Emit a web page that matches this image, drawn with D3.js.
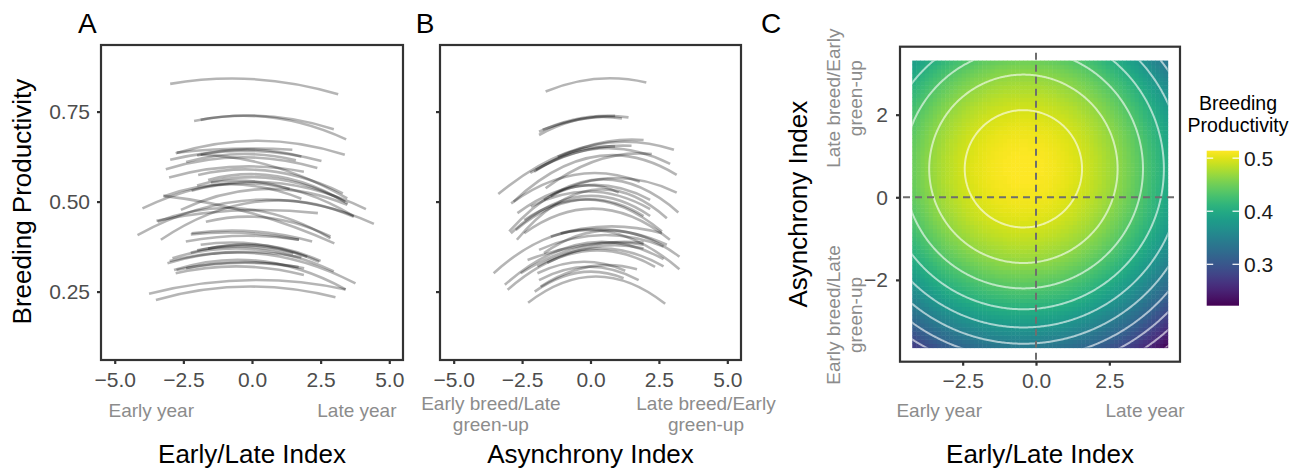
<!DOCTYPE html>
<html><head><meta charset="utf-8">
<script src="https://cdn.jsdelivr.net/npm/d3@7"></script>
<style>
body{margin:0;background:#fff;}
svg{display:block;font-family:"Liberation Sans",Arial,Helvetica,sans-serif;}
</style></head><body>
<svg id="chart" width="1300" height="472"></svg>
<script>
// ================= DATA =================
const xTicksAB = [-5, -2.5, 0, 2.5, 5];
const yTicksAB = [0.25, 0.5, 0.75];
const xTicksC = [-2.5, 0, 2.5];
const yTicksC = [-2, 0, 2];
const legendTicks = [0.3, 0.4, 0.5];

// Site-level fitted curves: [xStart, xEnd, yStart, yMiddle, yEnd]
const curvesA = [
  [-2.98, 3.14, 0.827, 0.840, 0.798],
  [-2.11, 2.98, 0.724, 0.738, 0.701],
  [-1.87, 3.43, 0.727, 0.733, 0.673],
  [-2.78, 3.38, 0.634, 0.669, 0.630],
  [-2.74, 1.47, 0.636, 0.647, 0.644],
  [-2.98, 2.53, 0.616, 0.641, 0.613],
  [-3.14, 2.38, 0.590, 0.623, 0.593],
  [-3.02, 1.89, 0.567, 0.597, 0.583],
  [-2.40, 1.60, 0.610, 0.632, 0.615],
  [-1.87, 3.47, 0.630, 0.597, 0.509],
  [-1.50, 1.37, 0.553, 0.557, 0.535],
  [-3.24, 3.00, 0.516, 0.470, 0.384],
  [-3.99, 4.15, 0.481, 0.555, 0.479],
  [-4.17, 4.44, 0.407, 0.505, 0.438],
  [-3.32, 3.71, 0.394, 0.500, 0.458],
  [-2.59, 3.47, 0.477, 0.535, 0.491],
  [-3.44, 2.86, 0.444, 0.480, 0.398],
  [-2.20, 2.19, 0.412, 0.418, 0.389],
  [-2.41, 1.71, 0.389, 0.405, 0.394],
  [-3.20, 1.80, 0.515, 0.548, 0.508],
  [-2.00, 3.40, 0.545, 0.565, 0.500],
  [-2.20, 3.70, 0.530, 0.545, 0.460],
  [-2.23, 1.71, 0.409, 0.413, 0.394],
  [-2.23, 2.44, 0.358, 0.378, 0.333],
  [-1.87, 2.01, 0.380, 0.383, 0.347],
  [-2.90, 2.98, 0.343, 0.368, 0.306],
  [-3.08, 3.77, 0.329, 0.355, 0.273],
  [-2.84, 3.41, 0.310, 0.335, 0.256],
  [-2.78, 1.89, 0.301, 0.320, 0.296],
  [-2.40, 1.70, 0.315, 0.332, 0.318],
  [-3.75, 3.41, 0.244, 0.282, 0.256],
  [-3.50, 3.04, 0.227, 0.264, 0.234],
  [-1.68, 2.86, 0.444, 0.455, 0.403],
  [-1.60, 2.50, 0.370, 0.378, 0.335],
  [-2.00, 1.50, 0.365, 0.375, 0.355],
  [-3.00, 1.80, 0.335, 0.360, 0.345],
  [-2.75, 1.90, 0.310, 0.330, 0.315],
  [-2.00, 1.80, 0.628, 0.645, 0.625],
  [-1.96, 3.31, 0.574, 0.585, 0.523],
  [-1.60, 3.49, 0.560, 0.570, 0.494],
  [-3.48, 2.40, 0.447, 0.475, 0.468]
];

const curvesB = [
  [-1.64, 2.04, 0.806, 0.841, 0.831],
  [-1.88, 1.39, 0.694, 0.733, 0.734],
  [-1.88, 1.15, 0.685, 0.729, 0.731],
  [-1.75, 0.90, 0.700, 0.728, 0.738],
  [-3.37, 3.05, 0.521, 0.653, 0.644],
  [-2.81, 3.15, 0.500, 0.625, 0.574],
  [-2.00, 2.91, 0.588, 0.648, 0.605],
  [-2.06, 1.94, 0.583, 0.655, 0.671],
  [-1.64, 2.24, 0.537, 0.616, 0.632],
  [-2.97, 3.21, 0.417, 0.560, 0.470],
  [-2.69, 2.79, 0.394, 0.532, 0.454],
  [-1.70, 3.15, 0.505, 0.565, 0.525],
  [-1.45, 1.03, 0.514, 0.545, 0.525],
  [-2.18, 2.18, 0.486, 0.528, 0.479],
  [-2.42, 2.61, 0.449, 0.505, 0.417],
  [-3.54, 3.25, 0.301, 0.421, 0.312],
  [-3.13, 2.67, 0.269, 0.384, 0.340],
  [-3.03, 2.36, 0.255, 0.361, 0.319],
  [-2.55, 1.94, 0.301, 0.375, 0.380],
  [-1.88, 2.67, 0.366, 0.407, 0.375],
  [-2.30, 1.94, 0.338, 0.380, 0.386],
  [-1.94, 1.27, 0.301, 0.333, 0.308],
  [-1.88, 1.76, 0.282, 0.319, 0.282],
  [-2.04, 1.21, 0.250, 0.303, 0.287],
  [-2.28, 2.73, 0.219, 0.292, 0.216],
  [-1.82, 1.70, 0.264, 0.319, 0.312],
  [-1.09, 2.79, 0.412, 0.421, 0.380],
  [-1.45, 2.61, 0.403, 0.431, 0.412],
  [-2.91, 2.18, 0.412, 0.514, 0.460],
  [-2.73, 1.94, 0.421, 0.505, 0.460],
  [-2.20, 1.50, 0.580, 0.640, 0.655],
  [-1.20, 0.90, 0.625, 0.648, 0.653],
  [-2.67, 2.18, 0.468, 0.545, 0.505],
  [-2.42, 2.90, 0.412, 0.480, 0.394],
  [-1.70, 3.25, 0.357, 0.420, 0.347],
  [-1.58, 1.94, 0.330, 0.375, 0.370],
  [-1.94, 2.67, 0.320, 0.370, 0.320],
  [-2.90, 1.80, 0.495, 0.575, 0.555]
];

// Panel C fitted response surface (quadratic model)
const surfacePeak = [-0.43, 0.69];          // Early/Late, Asynchrony at maximum
const surfaceMax = [0.514];
const surfaceCurvature = [0.00475, 0.00942]; // quadratic coefficients (x, y)
const rasterXRange = [-4.22, 4.49];
const rasterYRange = [-3.64, 3.31];
const rasterCells = [62, 70];
const contourLevels = [0.495, 0.465, 0.435, 0.405, 0.375, 0.345, 0.315, 0.285, 0.255, 0.225];
const colorRange = [0.222, 0.514];

// ================= DRAWING =================
const svg = d3.select("#chart");
const FONT = '"Liberation Sans",Arial,Helvetica,sans-serif';
const tickCol = "#4d4d4d", annCol = "#8c8c8c", frameCol = "#333333";

function styleAxis(g) {
  g.attr("font-family", null).attr("font-size", null);
  g.select(".domain").remove();
  g.selectAll(".tick line").attr("stroke", frameCol).attr("stroke-width", 2.2);
  g.selectAll(".tick text").attr("fill", tickCol).style("font-size", "21px").style("font-family", FONT);
}

function curvePath(c, x, y) {
  const [x0, x1, v0, vm, v1] = c;
  const xm = (x0 + x1) / 2;
  const ctrl = 2 * vm - (v0 + v1) / 2;
  const p = d3.path();
  p.moveTo(x(x0), y(v0));
  p.quadraticCurveTo(x(xm), y(ctrl), x(x1), y(v1));
  return p.toString();
}

function text(g, str, x, y, size, fill, anchor, rotate) {
  const t = g.append("text").text(str)
    .attr("font-size", size).attr("fill", fill).attr("text-anchor", anchor || "middle");
  if (rotate) t.attr("transform", `translate(${x},${y}) rotate(-90)`);
  else t.attr("x", x).attr("y", y);
  return t;
}

function linePanel(curves, left, right, showYLabels) {
  const top = 45, bottom = 360;
  const x = d3.scaleLinear().domain([-5.5, 5.5]).range([left, right]);
  const y = d3.scaleLinear().domain([0.06, 0.935]).range([bottom, top]);
  const g = svg.append("g");
  g.append("g").selectAll("path").data(curves).join("path")
    .attr("d", d => curvePath(d, x, y))
    .attr("fill", "none").attr("stroke", "#000").attr("stroke-opacity", 0.29)
    .attr("stroke-width", 2.6).attr("stroke-linecap", "butt");
  g.append("g").attr("transform", `translate(0,${bottom})`)
    .call(d3.axisBottom(x).tickValues(xTicksAB).tickSize(4).tickPadding(8).tickFormat(d3.format(".1f")))
    .call(styleAxis);
  g.append("g").attr("transform", `translate(${left},0)`)
    .call(d3.axisLeft(y).tickValues(yTicksAB).tickSize(4).tickPadding(7)
      .tickFormat(showYLabels ? d3.format(".2f") : () => ""))
    .call(styleAxis);
  g.append("rect").attr("x", left).attr("y", top).attr("width", right - left).attr("height", bottom - top)
    .attr("fill", "none").attr("stroke", frameCol).attr("stroke-width", 2.2);
  return {x, y, g};
}

// ---- Panel A ----
const A = linePanel(curvesA, 101, 403, true);
text(svg, "A", 87.3, 33.3, "28px", "#000");
text(svg, "Early/Late Index", A.x(0), 463, "26px", "#000");
text(svg, "Breeding Productivity", 30.5, A.y(0.5), "26px", "#000", "middle", true);
text(svg, "Early year", A.x(-3.67), 417, "19px", annCol);
text(svg, "Late year", A.x(3.82), 417, "19px", annCol);

// ---- Panel B ----
const B = linePanel(curvesB, 440, 741, false);
text(svg, "B", 425, 33.3, "28px", "#000");
text(svg, "Asynchrony Index", B.x(0), 463, "26px", "#000");
text(svg, "Early breed/Late", B.x(-3.64), 409.5, "19px", annCol);
text(svg, "green-up", B.x(-3.64), 430.5, "19px", annCol);
text(svg, "Late breed/Early", B.x(4.22), 409.5, "19px", annCol);
text(svg, "green-up", B.x(4.22), 430.5, "19px", annCol);

// ---- Panel C ----
const cL = 900, cR = 1180, cT = 46.7, cB = 361.7;
const xC = d3.scaleLinear().domain([-4.637, 4.910]).range([cL, cR]);
const yC = d3.scaleLinear().domain([-3.981, 3.646]).range([cB, cT]);
const color = v => d3.interpolateViridis((v - colorRange[0]) / (colorRange[1] - colorRange[0]));
const surface = (xx, yy) => surfaceMax[0]
  - surfaceCurvature[0] * (xx - surfacePeak[0]) ** 2
  - surfaceCurvature[1] * (yy - surfacePeak[1]) ** 2;

const gC = svg.append("g");
const cw = (rasterXRange[1] - rasterXRange[0]) / rasterCells[0];
const ch = (rasterYRange[1] - rasterYRange[0]) / rasterCells[1];
const cells = [];
for (let j = 0; j < rasterCells[1]; j++) for (let i = 0; i < rasterCells[0]; i++) {
  const x0 = rasterXRange[0] + i * cw, y0 = rasterYRange[0] + j * ch;
  cells.push({x0, y0, v: surface(x0 + cw / 2, y0 + ch / 2)});
}
gC.append("g").selectAll("rect").data(cells).join("rect")
  .attr("x", d => xC(d.x0)).attr("y", d => yC(d.y0 + ch))
  .attr("width", d => xC(d.x0 + cw) - xC(d.x0) + 0.5)
  .attr("height", d => yC(d.y0) - yC(d.y0 + ch) + 0.5)
  .attr("fill", d => color(d.v));

// contours
const defs = svg.append("defs");
defs.append("clipPath").attr("id", "rasterClip").append("rect")
  .attr("x", xC(rasterXRange[0])).attr("y", yC(rasterYRange[1]))
  .attr("width", xC(rasterXRange[1]) - xC(rasterXRange[0]))
  .attr("height", yC(rasterYRange[0]) - yC(rasterYRange[1]));
defs.append("clipPath").attr("id", "boxClip").append("rect")
  .attr("x", cL).attr("y", cT).attr("width", cR - cL).attr("height", cB - cT);

const n = 220, m = 220;
const gx0 = rasterXRange[0] - 0.6, gx1 = rasterXRange[1] + 0.6;
const gy0 = rasterYRange[0] - 0.6, gy1 = rasterYRange[1] + 0.6;
const sx = (gx1 - gx0) / n, sy = (gy1 - gy0) / m;
const vals = new Array(n * m);
for (let j = 0; j < m; j++) for (let i = 0; i < n; i++)
  vals[j * n + i] = surface(gx0 + (i + 0.5) * sx, gy0 + (j + 0.5) * sy);
const contours = d3.contours().size([n, m]).thresholds(contourLevels)(vals);
const proj = d3.geoTransform({point(px, py) { this.stream.point(xC(gx0 + px * sx), yC(gy0 + py * sy)); }});
gC.append("g").attr("clip-path", "url(#rasterClip)")
  .selectAll("path").data(contours).join("path")
  .attr("d", d3.geoPath(proj))
  .attr("fill", "none").attr("stroke", "#fff").attr("stroke-opacity", 0.6).attr("stroke-width", 2);

// reference dashed lines
const dash = gC.append("g").attr("clip-path", "url(#boxClip)");
dash.append("line").attr("x1", xC(0)).attr("x2", xC(0)).attr("y1", cT + 6).attr("y2", cB)
  .attr("stroke", "#6e6e6e").attr("stroke-width", 2).attr("stroke-dasharray", "7,5");
dash.append("line").attr("y1", yC(0)).attr("y2", yC(0)).attr("x1", cL + 3).attr("x2", cR)
  .attr("stroke", "#6e6e6e").attr("stroke-width", 2).attr("stroke-dasharray", "7,5");

gC.append("g").attr("transform", `translate(0,${cB})`)
  .call(d3.axisBottom(xC).tickValues(xTicksC).tickSize(4).tickPadding(7.5).tickFormat(d3.format(".1f")))
  .call(styleAxis);
gC.append("g").attr("transform", `translate(${cL},0)`)
  .call(d3.axisLeft(yC).tickValues(yTicksC).tickSize(4).tickPadding(8).tickFormat(d3.format("d")))
  .call(styleAxis);
gC.append("rect").attr("x", cL).attr("y", cT).attr("width", cR - cL).attr("height", cB - cT)
  .attr("fill", "none").attr("stroke", frameCol).attr("stroke-width", 2.2);

text(svg, "C", 771, 33.3, "28px", "#000");
text(svg, "Early/Late Index", (cL + cR) / 2, 463, "26px", "#000");
text(svg, "Asynchrony Index", 807, (cT + cB) / 2, "26px", "#000", "middle", true);
text(svg, "Early year", xC(-3.3), 417, "19px", annCol);
text(svg, "Late year", xC(3.72), 417, "19px", annCol);
text(svg, "Late breed/Early", 840, yC(2.4), "19px", annCol, "middle", true);
text(svg, "green-up", 862, yC(2.4), "19px", annCol, "middle", true);
text(svg, "Early breed/Late", 840, yC(-2.85), "19px", annCol, "middle", true);
text(svg, "green-up", 862, yC(-2.85), "19px", annCol, "middle", true);

// ---- Legend ----
const lgL = 1206.7, lgR = 1239, lgT = 150.7, lgB = 305.7;
const lgScale = d3.scaleLinear().domain(colorRange).range([lgB, lgT]);
const grad = defs.append("linearGradient").attr("id", "vir")
  .attr("x1", 0).attr("y1", 1).attr("x2", 0).attr("y2", 0);
d3.range(0, 1.0001, 0.05).forEach(t => grad.append("stop")
  .attr("offset", t).attr("stop-color", d3.interpolateViridis(t)));
const lg = svg.append("g");
lg.append("rect").attr("x", lgL).attr("y", lgT).attr("width", lgR - lgL).attr("height", lgB - lgT)
  .attr("fill", "url(#vir)");
legendTicks.forEach(v => {
  const yy = lgScale(v);
  lg.append("line").attr("x1", lgL).attr("x2", lgL + 6.5).attr("y1", yy).attr("y2", yy)
    .attr("stroke", "#fff").attr("stroke-width", 1.2);
  lg.append("line").attr("x1", lgR - 6.5).attr("x2", lgR).attr("y1", yy).attr("y2", yy)
    .attr("stroke", "#fff").attr("stroke-width", 1.2);
  text(lg, d3.format(".1f")(v), lgR + 5, yy, "21px", "#1a1a1a", "start").attr("dy", "0.36em");
});
text(lg, "Breeding", 1238, 110, "19.5px", "#000");
text(lg, "Productivity", 1238, 131.7, "19.5px", "#000");
</script>
</body></html>
